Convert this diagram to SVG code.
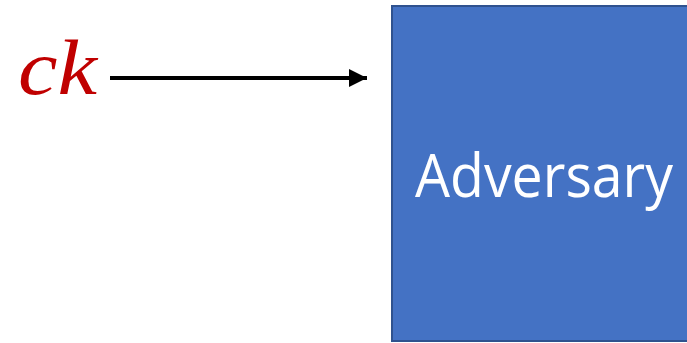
<svg xmlns="http://www.w3.org/2000/svg" width="687" height="343" viewBox="0 0 687 343">
  <style>
    .box { fill: #4472C4; stroke: #2F528F; stroke-width: 2; }
    .box-label { font-family: "Open Sans", "Liberation Sans", sans-serif; font-size: 60px; fill: #FFFFFF; }
    .var { font-family: "Liberation Serif", "DejaVu Serif", serif; font-style: italic; font-size: 78px; fill: #C00000; }
    .edge { stroke: #000000; stroke-width: 4; fill: none; }
  </style>
  <defs>
    <marker id="arrowhead" markerUnits="userSpaceOnUse" markerWidth="20" markerHeight="20" refX="18" refY="9" orient="auto">
      <polygon points="0,0 18,9 0,18" fill="#000000"/>
    </marker>
  </defs>

  <!-- input label -->
  <g id="ck">
    <text class="var" x="18" y="94" textLength="79" lengthAdjust="spacingAndGlyphs">ck</text>
  </g>

  <!-- adversary block -->
  <g id="adversary">
    <rect class="box" x="392" y="6" width="300" height="335"/>
    <text class="box-label" x="415" y="197" textLength="258" lengthAdjust="spacingAndGlyphs">Adversary</text>
  </g>

  <!-- connectors -->
  <g id="connectors">
    <line class="edge" x1="110" y1="78" x2="367" y2="78" marker-end="url(#arrowhead)"/>
  </g>
</svg>
